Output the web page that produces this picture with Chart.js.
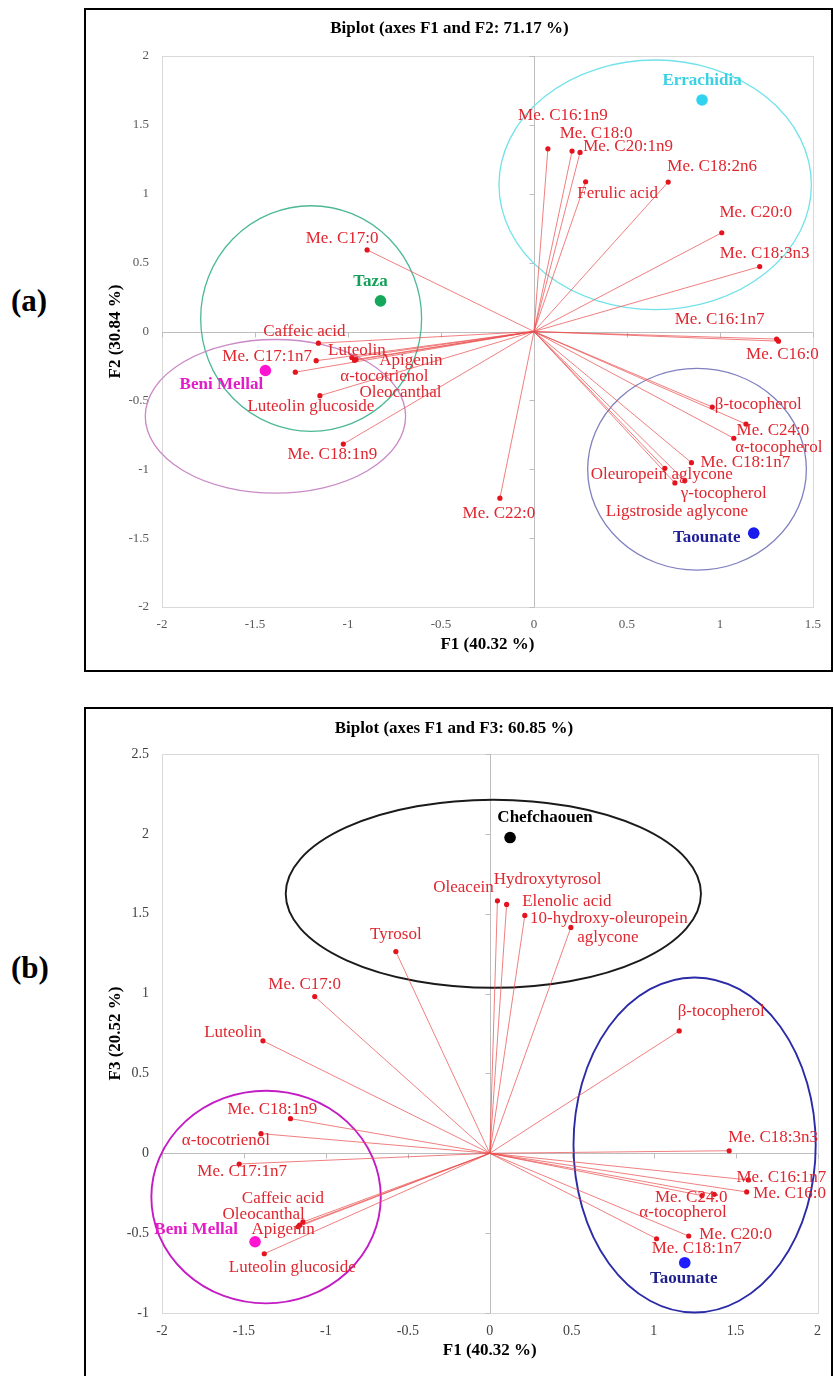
<!DOCTYPE html>
<html>
<head>
<meta charset="utf-8">
<script src="https://cdn.jsdelivr.net/npm/chart.js@4/dist/chart.umd.min.js"></script>
<style>
  html, body { margin: 0; padding: 0; background: #fff; }
  body { position: relative; width: 834px; height: 1376px; overflow: hidden;
         font-family: 'Liberation Serif', 'Times New Roman', serif; }
  .frame { position: absolute; left: 84px; width: 749px; border: 2px solid #000; box-sizing: border-box; }
  .panel { position: absolute; left: 11px; font-weight: bold; font-size: 31px; line-height: 31px; color: #000; }
  canvas { position: absolute; left: 86px; }
</style>
</head>
<body>
<div class="panel" style="top:285px">(a)</div>
<div class="frame" style="top:8px;height:664px"></div>
<canvas id="biplot12" width="745" height="660" style="top:10px"></canvas>

<div class="panel" style="top:952px">(b)</div>
<div class="frame" style="top:707px;height:690px"></div>
<canvas id="biplot13" width="745" height="667" style="top:709px"></canvas>

<script>
const SERIF = "'Liberation Serif', 'Times New Roman', serif";

// ---------- Plane F1 x F2 ----------
const f12Variables = ['Me. C16:1n9', 'Me. C18:0', 'Me. C20:1n9', 'Ferulic acid', 'Me. C18:2n6',
  'Me. C20:0', 'Me. C18:3n3', 'Me. C16:1n7', 'Me. C16:0', 'β-tocopherol', 'Me. C24:0',
  'α-tocopherol', 'Me. C18:1n7', 'Oleuropein aglycone', 'γ-tocopherol', 'Ligstroside aglycone',
  'Me. C22:0', 'Me. C17:0', 'Caffeic acid', 'Me. C17:1n7', 'Luteolin', 'Apigenin',
  'α-tocotrienol', 'Oleocanthal', 'Luteolin glucoside', 'Me. C18:1n9'];
const f12LoadF1 = [0.075, 0.205, 0.248, 0.278, 0.722, 1.01, 1.214, 1.305, 1.315, 0.959, 1.14,
  1.075, 0.847, 0.704, 0.811, 0.758, -0.183, -0.897, -1.159, -1.171, -0.979, -0.957,
  -1.283, -0.965, -1.151, -1.025];
const f12LoadF2 = [1.326, 1.31, 1.30, 1.087, 1.085, 0.717, 0.471, -0.055, -0.07, -0.548, -0.672,
  -0.775, -0.952, -0.993, -1.084, -1.099, -1.21, 0.592, -0.085, -0.212, -0.188, -0.203,
  -0.295, -0.21, -0.466, -0.817];

const f12Regions = ['Errachidia', 'Taza', 'Beni Mellal', 'Taounate'];
const f12RegionF1 = [0.904, -0.825, -1.444, 1.182];
const f12RegionF2 = [1.681, 0.222, -0.283, -1.464];

// group ellipses: centre and semi-axes, in axis units
const f12EllipseF1 = [0.652, -1.198, -1.39, 0.877];
const f12EllipseF2 = [1.065, 0.094, -0.616, -1.0];
const f12EllipseHalfF1 = [0.84, 0.594, 0.70, 0.588];
const f12EllipseHalfF2 = [0.906, 0.819, 0.558, 0.732];

const f12TicksF1 = [-2, -1.5, -1, -0.5, 0, 0.5, 1, 1.5];
const f12TicksF2 = [-2, -1.5, -1, -0.5, 0, 0.5, 1, 1.5, 2];

// ---------- Plane F1 x F3 ----------
const f13Variables = ['Oleacein', 'Hydroxytyrosol', 'Elenolic acid', '10-hydroxy-oleuropein aglycone',
  'Tyrosol', 'Me. C17:0', 'Luteolin', 'β-tocopherol', 'Me. C18:1n9', 'α-tocotrienol',
  'Me. C17:1n7', 'Caffeic acid', 'Oleocanthal', 'Apigenin', 'Luteolin glucoside',
  'Me. C18:3n3', 'Me. C16:1n7', 'Me. C16:0', 'Me. C24:0', 'α-tocopherol', 'Me. C20:0', 'Me. C18:1n7'];
const f13LoadF1 = [0.047, 0.103, 0.214, 0.495, -0.573, -1.068, -1.384, 1.156, -1.216, -1.396,
  -1.529, -1.14, -1.16, -1.17, -1.376, 1.461, 1.578, 1.568, 1.37, 1.295, 1.214, 1.018];
const f13LoadF3 = [1.581, 1.558, 1.489, 1.414, 1.263, 0.981, 0.704, 0.766, 0.217, 0.123,
  -0.067, -0.43, -0.45, -0.46, -0.629, 0.016, -0.167, -0.242, -0.257, -0.265, -0.518, -0.535];

const f13Regions = ['Chefchaouen', 'Beni Mellal', 'Taounate'];
const f13RegionF1 = [0.124, -1.432, 1.19];
const f13RegionF3 = [1.977, -0.554, -0.685];

const f13EllipseF1 = [0.022, -1.365, 1.25];
const f13EllipseF3 = [1.625, -0.274, 0.052];
const f13EllipseHalfF1 = [1.267, 0.70, 0.739];
const f13EllipseHalfF3 = [0.589, 0.666, 1.049];

const f13TicksF1 = [-2, -1.5, -1, -0.5, 0, 0.5, 1, 1.5, 2];
const f13TicksF3 = [-1, -0.5, 0, 0.5, 1, 1.5, 2, 2.5];

// ---------- label placement (pixel offsets from the marker) ----------
const f12Nudge = {
  'Me. C16:1n9': [15, -33], 'Me. C18:0': [24, -18], 'Me. C20:1n9': [48, -6],
  'Ferulic acid': [32, 12], 'Me. C18:2n6': [44, -16], 'Me. C20:0': [34, -20],
  'Me. C18:3n3': [5, -13], 'Me. C16:1n7': [-57, -20], 'Me. C16:0': [4, 13],
  'β-tocopherol': [46, -2], 'Me. C24:0': [27, 6], 'α-tocopherol': [45, 9],
  'Me. C18:1n7': [54, 0], 'Oleuropein aglycone': [-3, 6], 'γ-tocopherol': [39, 13],
  'Ligstroside aglycone': [2, 29], 'Me. C22:0': [-1, 15], 'Me. C17:0': [-25, -11],
  'Caffeic acid': [-14, -12], 'Me. C17:1n7': [-49, -4], 'Luteolin': [5, -7],
  'Apigenin': [55, 1], 'α-tocotrienol': [89, 4], 'Oleocanthal': [46, 32],
  'Luteolin glucoside': [-9, 11], 'Me. C18:1n9': [-11, 10],
  'Errachidia': [0, -19], 'Taza': [-10, -19], 'Beni Mellal': [-44, 14], 'Taounate': [-47, 4]
};
const f13Nudge = {
  'Oleacein': [-34, -13], 'Hydroxytyrosol': [41, -25], 'Elenolic acid': [42, -14],
  '10-hydroxy-oleuropein aglycone': [[38, -9], [37, 10]],
  'Tyrosol': [0, -17], 'Me. C17:0': [-10, -12], 'Luteolin': [-30, -8],
  'β-tocopherol': [42, -19], 'Me. C18:1n9': [-18, -9], 'α-tocotrienol': [-35, 7],
  'Me. C17:1n7': [3, 8], 'Caffeic acid': [-20, -23], 'Oleocanthal': [-36, -11],
  'Apigenin': [-15, 3], 'Luteolin glucoside': [28, 14], 'Me. C18:3n3': [44, -13],
  'Me. C16:1n7': [33, -2], 'Me. C16:0': [43, 2], 'Me. C24:0': [-23, 3],
  'α-tocopherol': [-19, 17], 'Me. C20:0': [47, -1], 'Me. C18:1n7': [40, 10],
  'Chefchaouen': [35, -20], 'Beni Mellal': [-59, -12], 'Taounate': [-1, 16]
};
const wrappedNames = { '10-hydroxy-oleuropein aglycone': ['10-hydroxy-oleuropein', 'aglycone'] };

// ---------- colours ----------
const f12Style = {
  'Errachidia':  { dot: '#2fd3f0', text: '#3ad2e2', ring: '#72e2ea' },
  'Taza':        { dot: '#16a85a', text: '#14a058', ring: '#4cb896' },
  'Beni Mellal': { dot: '#ff14d2', text: '#e21cc6', ring: '#c98ac6' },
  'Taounate':    { dot: '#1a1aee', text: '#1e1e9a', ring: '#8080c0' }
};
const f13Style = {
  'Chefchaouen': { dot: '#000000', text: '#000000', ring: '#1a1a1a' },
  'Beni Mellal': { dot: '#ff14d2', text: '#e21cc6', ring: '#c41cc4' },
  'Taounate':    { dot: '#1e1eff', text: '#1e1e8c', ring: '#2b2ba8' }
};

// plot frame, zero axes with their small tick marks
const crossAxes = {
  id: 'crossAxes',
  beforeDatasetsDraw(chart) {
    const { ctx, chartArea: a, scales: { x, y } } = chart;
    ctx.save();
    ctx.lineWidth = 1;
    ctx.strokeStyle = '#d9d9d9';
    ctx.strokeRect(Math.round(a.left) + 0.5, Math.round(a.top) + 0.5,
      Math.round(a.right - a.left), Math.round(a.bottom - a.top));
    const x0 = Math.round(x.getPixelForValue(0)) + 0.5;
    const y0 = Math.round(y.getPixelForValue(0)) + 0.5;
    ctx.strokeStyle = '#bdbdbd';
    ctx.beginPath();
    ctx.moveTo(x0, a.top); ctx.lineTo(x0, a.bottom);
    ctx.moveTo(a.left, y0); ctx.lineTo(a.right, y0);
    y.ticks.forEach(t => {
      const py = Math.round(y.getPixelForValue(t.value)) + 0.5;
      ctx.moveTo(x0 - 5, py); ctx.lineTo(x0, py);
    });
    x.ticks.forEach(t => {
      const px = Math.round(x.getPixelForValue(t.value)) + 0.5;
      ctx.moveTo(px, y0); ctx.lineTo(px, y0 + 5);
    });
    ctx.stroke();
    ctx.restore();
  }
};

// group ellipses drawn in axis units
const groupEllipses = {
  id: 'groupEllipses',
  beforeDatasetsDraw(chart, args, opts) {
    const { ctx, scales: { x, y } } = chart;
    ctx.save();
    opts.cx.forEach((cx, i) => {
      const px = x.getPixelForValue(cx), py = y.getPixelForValue(opts.cy[i]);
      const rx = Math.abs(x.getPixelForValue(cx + opts.hx[i]) - px);
      const ry = Math.abs(y.getPixelForValue(opts.cy[i] + opts.hy[i]) - py);
      ctx.beginPath();
      ctx.ellipse(px, py, rx, ry, 0, 0, Math.PI * 2);
      ctx.strokeStyle = opts.style[opts.names[i]].ring;
      ctx.lineWidth = opts.width;
      ctx.stroke();
    });
    ctx.restore();
  }
};

// variable and region names next to their markers
const pointLabels = {
  id: 'pointLabels',
  afterDatasetsDraw(chart, args, opts) {
    const { ctx, scales: { x, y } } = chart;
    ctx.save();
    ctx.textAlign = 'center';
    ctx.textBaseline = 'middle';
    ctx.font = `17px ${SERIF}`;
    ctx.fillStyle = '#e0262f';
    opts.names.forEach((name, i) => {
      const px = x.getPixelForValue(opts.vx[i]), py = y.getPixelForValue(opts.vy[i]);
      const n = opts.nudge[name] || [0, -12];
      if (wrappedNames[name]) {
        wrappedNames[name].forEach((line, k) => ctx.fillText(line, px + n[k][0], py + n[k][1]));
      } else {
        ctx.fillText(name, px + n[0], py + n[1]);
      }
    });
    ctx.font = `bold 17px ${SERIF}`;
    opts.regions.forEach((name, i) => {
      const px = x.getPixelForValue(opts.rx[i]), py = y.getPixelForValue(opts.ry[i]);
      const n = opts.nudge[name] || [0, -16];
      ctx.fillStyle = opts.style[name].text;
      ctx.fillText(name, px + n[0], py + n[1]);
    });
    ctx.restore();
  }
};

function biplot(canvasId, cfg) {
  const datasets = cfg.vars.map((name, i) => ({
    label: name,
    data: [{ x: 0, y: 0 }, { x: cfg.vx[i], y: cfg.vy[i] }],
    showLine: true,
    borderColor: 'rgba(234, 78, 78, 0.72)',
    borderWidth: 1,
    pointRadius: [0, 2.6],
    pointHoverRadius: 0,
    pointBackgroundColor: '#e3141e',
    pointBorderWidth: 0,
    order: 2
  }));
  datasets.push({
    label: 'Regions',
    data: cfg.regions.map((r, i) => ({ x: cfg.rx[i], y: cfg.ry[i] })),
    showLine: false,
    pointRadius: 5.8,
    pointHoverRadius: 5.8,
    pointBackgroundColor: cfg.regions.map(r => cfg.style[r].dot),
    pointBorderWidth: 0,
    order: 1
  });

  const axis = (ticks, title, extra) => Object.assign({
    type: 'linear',
    min: ticks[0],
    max: ticks[ticks.length - 1],
    afterBuildTicks: s => { s.ticks = ticks.map(v => ({ value: v })); },
    ticks: {
      callback: v => String(v),
      font: { family: SERIF, size: cfg.tickSize },
      color: cfg.tickColor,
      autoSkip: false,
      maxRotation: 0
    },
    grid: { display: false, drawTicks: false },
    border: { display: false },
    title: { display: true, text: title, color: '#000',
             font: { family: SERIF, size: 17, weight: 'bold' } }
  }, extra);

  const xAxis = axis(cfg.xTicks, cfg.xTitle, { afterFit: s => { s.height = cfg.xAxisHeight; } });
  xAxis.ticks.padding = 10;
  xAxis.title.padding = { top: 0, bottom: 14.8 };
  const yAxis = axis(cfg.yTicks, cfg.yTitle, { afterFit: s => { s.width = 76; } });
  yAxis.ticks.padding = 13;
  yAxis.title.padding = { top: 19.5, bottom: 0 };

  return new Chart(document.getElementById(canvasId), {
    type: 'scatter',
    data: { datasets },
    options: {
      responsive: false,
      animation: false,
      devicePixelRatio: 1,
      events: [],
      layout: { padding: { left: 0, right: cfg.padRight, top: 0, bottom: 0 } },
      scales: { x: xAxis, y: yAxis },
      plugins: {
        legend: { display: false },
        tooltip: { enabled: false },
        title: {
          display: true, text: cfg.title, color: '#000',
          font: { family: SERIF, size: 17, weight: 'bold' },
          padding: cfg.titlePad
        },
        groupEllipses: { names: cfg.regions, cx: cfg.ex, cy: cfg.ey, hx: cfg.ehx, hy: cfg.ehy,
                         style: cfg.style, width: cfg.ringWidth },
        pointLabels: { names: cfg.vars, vx: cfg.vx, vy: cfg.vy, regions: cfg.regions,
                       rx: cfg.rx, ry: cfg.ry, nudge: cfg.nudge, style: cfg.style }
      }
    },
    plugins: [crossAxes, groupEllipses, pointLabels]
  });
}

biplot('biplot12', {
  title: 'Biplot (axes F1 and F2: 71.17 %)',
  xTitle: 'F1 (40.32 %)', yTitle: 'F2 (30.84 %)',
  xTicks: f12TicksF1, yTicks: f12TicksF2,
  vars: f12Variables, vx: f12LoadF1, vy: f12LoadF2,
  regions: f12Regions, rx: f12RegionF1, ry: f12RegionF2,
  ex: f12EllipseF1, ey: f12EllipseF2, ehx: f12EllipseHalfF1, ehy: f12EllipseHalfF2,
  style: f12Style, nudge: f12Nudge, ringWidth: 1.3,
  tickSize: 13, tickColor: '#595959',
  padRight: 18, xAxisHeight: 63, titlePad: { top: 8, bottom: 17.6 }
});

biplot('biplot13', {
  title: 'Biplot (axes F1 and F3: 60.85 %)',
  xTitle: 'F1 (40.32 %)', yTitle: 'F3 (20.52 %)',
  xTicks: f13TicksF1, yTicks: f13TicksF3,
  vars: f13Variables, vx: f13LoadF1, vy: f13LoadF3,
  regions: f13Regions, rx: f13RegionF1, ry: f13RegionF3,
  ex: f13EllipseF1, ey: f13EllipseF3, ehx: f13EllipseHalfF1, ehy: f13EllipseHalfF3,
  style: f13Style, nudge: f13Nudge, ringWidth: 1.9,
  tickSize: 14, tickColor: '#404040',
  padRight: 9, xAxisHeight: 63, titlePad: { top: 9.8, bottom: 14.8 }
});
</script>
</body>
</html>
